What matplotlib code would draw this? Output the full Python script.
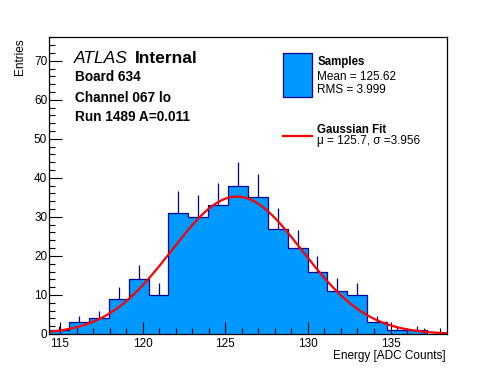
import numpy as np
import matplotlib
matplotlib.use("Agg")
import matplotlib.pyplot as plt
from matplotlib.patches import Rectangle
from matplotlib.lines import Line2D
from matplotlib.ticker import MultipleLocator

plt.rcParams['font.family'] = ['Liberation Sans', 'DejaVu Sans']

# histogram data
bin_lo = 114.35
bin_width = 1.202
counts = np.array([1, 3, 4, 9, 14, 10, 31, 30, 33, 38,
                   35, 27, 22, 16, 11, 10, 3, 1, 1, 0])
mean, rms = 125.62, 3.999

# gaussian fit parameters
fit_const = 35.2
fit_mu = 125.7
fit_sigma = 3.956

x_max = 138.4
y_max = 76

fill_col = '#0099ff'
edge_col = '#000099'

W, H = 496, 372
fig = plt.figure(figsize=(W / 100, H / 100), dpi=100)
ax = fig.add_axes([49.3 / W, 1 - 334 / H, (446.7 - 49.3) / W, (334 - 37.3) / H])

edges = bin_lo + bin_width * np.arange(len(counts) + 1)
centers = 0.5 * (edges[:-1] + edges[1:])

ax.stairs(counts, edges, fill=True, color=fill_col, zorder=1)
ax.stairs(counts, edges, color=edge_col, lw=0.9, zorder=2)
nz = counts > 0
ax.vlines(centers[nz], counts[nz], counts[nz] + np.sqrt(counts[nz]),
          color=edge_col, lw=0.9, zorder=2)

xs = np.linspace(bin_lo, x_max, 400)
ax.plot(xs, fit_const * np.exp(-0.5 * ((xs - fit_mu) / fit_sigma) ** 2),
        color='red', lw=1.6, zorder=3)

ax.set_xlim(bin_lo, x_max)
ax.set_ylim(0, y_max)
ax.xaxis.set_major_locator(MultipleLocator(5))
ax.xaxis.set_minor_locator(MultipleLocator(1))
ax.yaxis.set_major_locator(MultipleLocator(10))
ax.yaxis.set_minor_locator(MultipleLocator(2))
ax.tick_params(which='both', direction='in', top=False, right=False,
               labelsize=8.5, width=0.8)
ax.tick_params(which='major', length=9)
ax.tick_params(which='minor', length=4.5)
ax.tick_params(axis='x', pad=3)
ax.tick_params(axis='y', pad=1.5)
for s in ax.spines.values():
    s.set_linewidth(0.9)
    s.set_zorder(5)

fig.text(446 / W, 1 - 359 / H, 'Energy [ADC Counts]', ha='right', va='baseline', fontsize=8.5)
fig.text(20 / W, 1 - 38 / H, 'Entries', ha='center', va='top', rotation=90, fontsize=8.5)


def tx(x, y, s, **kw):
    fig.text(x / W, 1 - y / H, s, ha='left', va='baseline', **kw)


tx(73.5, 62.7, 'ATLAS', fontsize=12.5, style='italic')
tx(135, 62.7, 'Internal', fontsize=12.5, weight='bold')
tx(75, 80.7, 'Board 634', fontsize=9.8, weight='bold')
tx(75, 101.7, 'Channel 067 lo', fontsize=9.8, weight='bold')
tx(75, 120.7, 'Run 1489 A=0.011', fontsize=9.8, weight='bold')

# legend
fig.patches.append(Rectangle((283.3 / W, 1 - 96.7 / H), 28.4 / W, 43.4 / H,
                             transform=fig.transFigure, facecolor=fill_col,
                             edgecolor=edge_col, lw=0.9))
tx(317.3, 65, 'Samples', fontsize=8.3, weight='bold')
tx(317.3, 80, 'Mean = %.2f' % mean, fontsize=8.5)
tx(317.3, 93.3, 'RMS = %.3f' % rms, fontsize=8.5)
fig.lines.append(Line2D([283.3 / W, 311.7 / W], [1 - 136 / H, 1 - 136 / H],
                        transform=fig.transFigure, color='red', lw=1.6))
tx(317.3, 132.7, 'Gaussian Fit', fontsize=8.3, weight='bold')
tx(317.3, 144, 'μ = %.1f, σ =%.3f' % (fit_mu, fit_sigma), fontsize=8.5)

fig.savefig('out.png', dpi=100)
